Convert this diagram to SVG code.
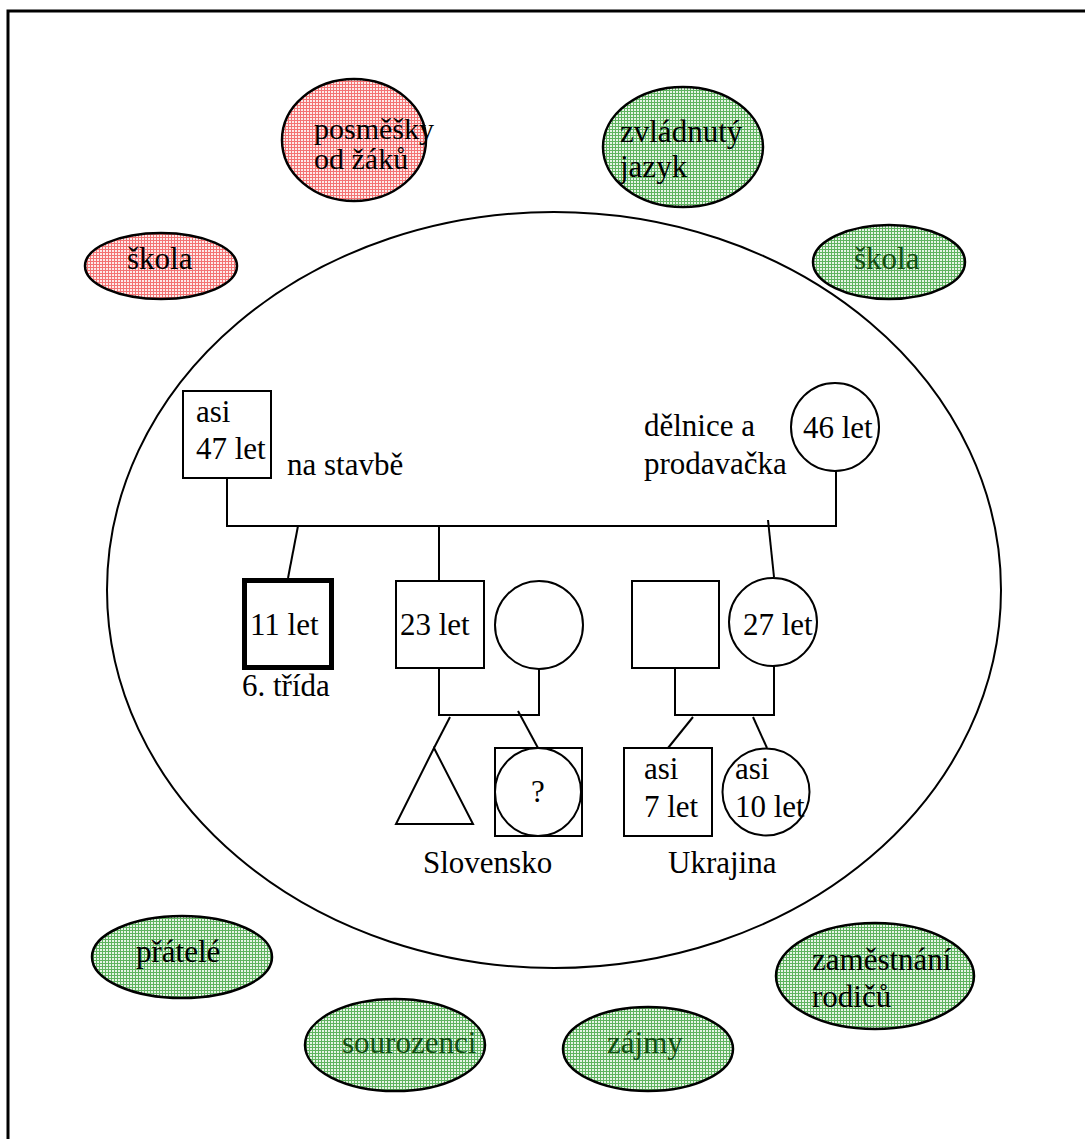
<svg xmlns="http://www.w3.org/2000/svg" width="1085" height="1139" viewBox="0 0 1085 1139">
<defs>
<pattern id="gridR" width="3" height="3" patternUnits="userSpaceOnUse">
<rect width="3" height="3" fill="#fdeaea"/>
<rect width="3" height="1" fill="#f37373"/>
<rect width="1" height="3" fill="#f37373"/>
</pattern>
<pattern id="gridG" width="3" height="3" patternUnits="userSpaceOnUse">
<rect width="3" height="3" fill="#e6f4e6"/>
<rect width="3" height="1" fill="#5fb35f"/>
<rect width="1" height="3" fill="#5fb35f"/>
</pattern>
<style>
text{font-family:"Liberation Serif","Times New Roman",Times,serif;font-size:31px;fill:#000}
.ln{fill:none;stroke:#000;stroke-width:2}
.sh{fill:#fff;stroke:#000;stroke-width:2}
.red{fill:url(#gridR);stroke:#000;stroke-width:2.5}
.grn{fill:url(#gridG);stroke:#000;stroke-width:2.5}
.gt{fill:#134d13}
.sm{font-size:30px}
</style>
</defs>
<rect width="1085" height="1139" fill="#fff"/>
<rect x="8" y="11" width="1100" height="1160" fill="none" stroke="#000" stroke-width="3"/>

<g id="household">
<ellipse cx="554" cy="590" rx="447" ry="378" class="ln"/>
</g>

<g id="connectors">
<polyline class="ln" points="227,478 227,526 836,526 836,470"/>
<line class="ln" x1="298" y1="526" x2="288" y2="578"/>
<line class="ln" x1="439" y1="526" x2="439" y2="581"/>
<line class="ln" x1="768" y1="520" x2="774" y2="577"/>
<polyline class="ln" points="439,668 439,715 539,715 539,668"/>
<line class="ln" x1="450" y1="717" x2="434" y2="748"/>
<line class="ln" x1="518" y1="711" x2="538" y2="748"/>
<polyline class="ln" points="675,668 675,715 774,715 774,666"/>
<line class="ln" x1="693" y1="717" x2="668" y2="748"/>
<line class="ln" x1="753" y1="717" x2="767" y2="748"/>
</g>

<g id="father">
<rect class="sh" x="183" y="391" width="88" height="87"/>
<text x="196" y="422">asi</text>
<text x="196" y="459">47 let</text>
<text x="287" y="475">na stavbě</text>
</g>
<g id="mother">
<text x="644" y="436">dělnice a</text>
<text x="644" y="474">prodavačka</text>
<circle class="sh" cx="835" cy="427" r="44"/>
<text x="803" y="438">46 let</text>
</g>
<g id="child-11">
<rect x="244.5" y="580.5" width="87" height="87" fill="#fff" stroke="#000" stroke-width="5"/>
<text x="250" y="635">11 let</text>
<text x="242" y="696">6. třída</text>
</g>
<g id="brother-23">
<rect class="sh" x="396" y="581" width="88" height="87"/>
<text x="400" y="635">23 let</text>
</g>
<g id="brother-wife">
<circle class="sh" cx="539" cy="625" r="44"/>
</g>
<g id="pregnancy">
<polygon class="sh" points="434,748 396,824 473,824"/>
</g>
<g id="unknown-child">
<rect class="sh" x="495" y="748" width="87" height="88"/>
<ellipse class="sh" cx="538" cy="792" rx="43" ry="44"/>
<text x="538" y="802" text-anchor="middle">?</text>
</g>
<text x="423" y="873">Slovensko</text>
<g id="sister-husband">
<rect class="sh" x="632" y="581" width="87" height="87"/>
</g>
<g id="sister-27">
<circle class="sh" cx="773" cy="622" r="44"/>
<text x="743" y="635">27 let</text>
</g>
<g id="nephew-7">
<rect class="sh" x="624" y="748" width="88" height="88"/>
<text x="644" y="779">asi</text>
<text x="644" y="817">7 let</text>
</g>
<g id="niece-10">
<circle class="sh" cx="766" cy="792" r="43.5"/>
<text x="735" y="779">asi</text>
<text x="735" y="817">10 let</text>
</g>
<text x="668" y="873">Ukrajina</text>

<g id="posmesky">
<ellipse class="red" cx="354" cy="140" rx="72" ry="61"/>
<text class="sm" x="314" y="139">posměšky</text>
<text class="sm" x="314" y="169">od žáků</text>
</g>
<g id="skola-red">
<ellipse class="red" cx="161" cy="266" rx="76" ry="33"/>
<text x="127" y="269">škola</text>
</g>
<g id="jazyk">
<ellipse class="grn" cx="683" cy="147" rx="80" ry="60"/>
<text x="620" y="142">zvládnutý</text>
<text x="620" y="177">jazyk</text>
</g>
<g id="skola-green">
<ellipse class="grn" cx="889" cy="262" rx="76" ry="37"/>
<text class="gt" x="854" y="269">škola</text>
</g>
<g id="pratele">
<ellipse class="grn" cx="182" cy="957" rx="90" ry="41"/>
<text x="136" y="962">přátelé</text>
</g>
<g id="sourozenci">
<ellipse class="grn" cx="395" cy="1045" rx="90" ry="46"/>
<text class="gt" x="342" y="1053">sourozenci</text>
</g>
<g id="zajmy">
<ellipse class="grn" cx="648" cy="1049" rx="85" ry="42"/>
<text class="gt" x="607" y="1053">zájmy</text>
</g>
<g id="zamestnani">
<ellipse class="grn" cx="875" cy="976" rx="99" ry="53"/>
<text x="812" y="970">zaměstnání</text>
<text x="812" y="1007">rodičů</text>
</g>
</svg>
